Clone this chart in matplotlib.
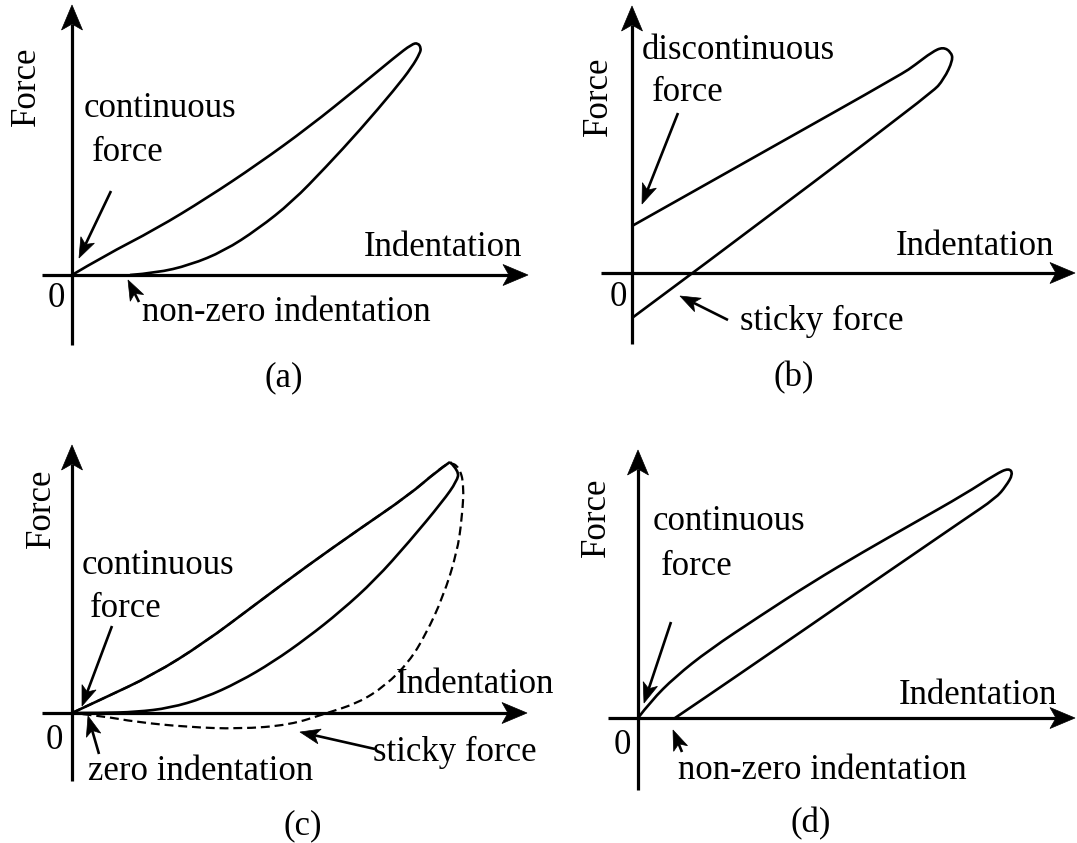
import matplotlib
matplotlib.use("Agg")
import matplotlib.pyplot as plt
import numpy as np
from matplotlib.path import Path
from matplotlib.patches import PathPatch, Polygon

plt.rcParams["font.family"] = ["Liberation Serif", "DejaVu Serif"]

FS = 25
LW_AXIS = 2.3
LW_CURVE = 1.9

# --- panel (a): continuous force, non-zero indentation ---
a_loop = [(0, 0), (32, 19), (84, 46), (135, 77), (186, 111), (237, 148), (288, 189),
          (323, 218), (340, 231), (346, 232), (349, 227), (348, 222), (340, 208),
          (323, 186), (288, 145), (254, 108), (220, 73), (186, 46), (152, 24),
          (118, 10), (84, 2), (58, 0)]

# --- panel (b): discontinuous force, sticky force ---
b_loop = [(0, 47), (135, 123), (270, 199), (283, 208), (300, 221), (311, 226),
          (319, 221), (321, 213), (312, 194), (300, 180), (61, 0), (0, -45)]

# --- panel (c): loading curve and two unloading curves ---
c_load = [(0, 0), (30, 14), (81, 38), (132, 70), (184, 109), (235, 147), (286, 183),
          (337, 218), (365, 242), (378, 251)]
c_unload = [(378, 251), (387, 242), (385, 232), (371, 212), (337, 171), (303, 133),
            (269, 102), (235, 75), (201, 51), (167, 31), (132, 15), (98, 5), (64, 1),
            (30, 0), (0, 0)]
c_sticky = [(378, 251), (387, 246), (392, 229), (390, 195), (385, 160), (371, 116),
            (354, 79), (337, 51), (313, 27), (286, 10), (255, 0), (218, -12),
            (167, -16), (115, -14), (64, -9), (30, -3), (0, 0)]

# --- panel (d): continuous force, non-zero indentation ---
d_loop = [(0, 0), (13, 17), (37, 41), (71, 68), (122, 102), (173, 135), (225, 166),
          (276, 195), (327, 224), (358, 244), (371, 250), (375, 244), (368, 232),
          (358, 220), (327, 199), (276, 164), (225, 129), (173, 93), (122, 58),
          (71, 23), (37, 0)]

# box in figure pixels (x0, y0, x1, y1), origin pixel, axis extents
panels = {
    "a": dict(box=(0, 0, 538, 421), origin=(72, 275), yax=(-70, 270), xax=(-30, 456)),
    "b": dict(box=(538, 0, 1077, 421), origin=(632, 273), yax=(-71, 267), xax=(-31, 443)),
    "c": dict(box=(0, 421, 538, 843), origin=(72, 713), yax=(-68, 268), xax=(-30, 455)),
    "d": dict(box=(538, 421, 1077, 843), origin=(638, 718), yax=(-72, 268), xax=(-30, 437)),
}

W, H = 1077, 843
fig = plt.figure(figsize=(W / 100, H / 100), dpi=100)


def make_axes(p):
    x0, y0, x1, y1 = p["box"]
    ox, oy = p["origin"]
    ax = fig.add_axes([x0 / W, 1 - y1 / H, (x1 - x0) / W, (y1 - y0) / H])
    ax.set_xlim(x0 - ox, x1 - ox)
    ax.set_ylim(oy - y1, oy - y0)
    ax.axis("off")
    return ax


def head(ax, tip, frm, length, width, notch):
    tip = np.array(tip, float)
    d = tip - np.array(frm, float)
    d /= np.hypot(*d)
    n = np.array([-d[1], d[0]])
    pts = [tip, tip - length * d + width / 2 * n, tip - (length - notch) * d,
           tip - length * d - width / 2 * n]
    ax.add_patch(Polygon(pts, closed=True, fc="black", ec="black", lw=0.5, clip_on=False))
    return tip - (length - notch) * d


def arrow(ax, frm, tip, lw=1.9, length=20, width=15, notch=5):
    back = head(ax, tip, frm, length, width, notch)
    ax.plot([frm[0], back[0]], [frm[1], back[1]], color="black", lw=lw,
            solid_capstyle="butt", clip_on=False)


def axes_arrows(ax, p):
    ylo, yhi = p["yax"]
    xlo, xhi = p["xax"]
    arrow(ax, (0, ylo), (0, yhi), lw=LW_AXIS, length=25, width=21, notch=6)
    arrow(ax, (xlo, 0), (xhi, 0), lw=LW_AXIS, length=25, width=21, notch=6)


def smooth(ax, pts, **kw):
    pts = [np.array(q, float) for q in pts]
    verts = [pts[0]]
    codes = [Path.MOVETO]
    for i in range(1, len(pts) - 1):
        end = pts[i + 1] if i == len(pts) - 2 else (pts[i] + pts[i + 1]) / 2
        verts += [pts[i], end]
        codes += [Path.CURVE3, Path.CURVE3]
    if len(pts) == 2:
        verts.append(pts[1])
        codes.append(Path.LINETO)
    patch = PathPatch(Path(verts, codes), fill=False, ec="black", clip_on=False,
                      capstyle="butt", joinstyle="round", **kw)
    ax.add_patch(patch)


def label(ax, x, y, s, **kw):
    ax.text(x, y, s, fontsize=FS, va="baseline", clip_on=False, **kw)


def force_label(ax, x, y):
    ax.text(x, y, "Force", fontsize=FS, rotation=90, ha="center", va="center")


# (a)
ax = make_axes(panels["a"])
axes_arrows(ax, panels["a"])
smooth(ax, a_loop, lw=LW_CURVE)
force_label(ax, -46, 189)
label(ax, 12, 158, "continuous")
label(ax, 20, 114, "force")
arrow(ax, (39, 84), (7, 17))
label(ax, 292, 19, "Indentation")
label(ax, -16, -32, "0", ha="center")
label(ax, 70, -46, "non-zero indentation")
arrow(ax, (67, -27), (56, -5))
label(ax, 212, -111, "(a)", ha="center")

# (b)
ax = make_axes(panels["b"])
axes_arrows(ax, panels["b"])
smooth(ax, b_loop, lw=LW_CURVE)
force_label(ax, -34, 177)
label(ax, 10, 214, "discontinuous")
label(ax, 20, 172, "force")
arrow(ax, (46, 160), (10, 69))
label(ax, 264, 18, "Indentation")
label(ax, -14, -33, "0", ha="center")
label(ax, 108, -57, "sticky force")
arrow(ax, (96, -47), (48, -23))
label(ax, 162, -113, "(b)", ha="center")

# (c)
ax = make_axes(panels["c"])
axes_arrows(ax, panels["c"])
smooth(ax, c_load, lw=LW_CURVE)
smooth(ax, c_unload, lw=LW_CURVE)
smooth(ax, c_load + c_sticky[1:], lw=1.6, linestyle=(0, (4, 2.2)))
force_label(ax, -31, 205)
label(ax, 10, 139, "continuous")
label(ax, 18, 96, "force")
arrow(ax, (40, 87), (10, 7))
label(ax, 324, 20, "Indentation")
label(ax, -18, -36, "0", ha="center")
label(ax, 16, -67, "zero indentation")
arrow(ax, (27, -41), (16, -3))
label(ax, 301, -48, "sticky force")
arrow(ax, (303, -36), (228, -19))
label(ax, 231, -121, "(c)", ha="center")

# (d)
ax = make_axes(panels["d"])
axes_arrows(ax, panels["d"])
smooth(ax, d_loop, lw=LW_CURVE)
force_label(ax, -42, 201)
label(ax, 15, 188, "continuous")
label(ax, 23, 143, "force")
arrow(ax, (33, 96), (6, 15))
label(ax, 261, 14, "Indentation")
label(ax, -16, -36, "0", ha="center")
label(ax, 40, -61, "non-zero indentation")
arrow(ax, (44, -34), (35, -12))
label(ax, 173, -114, "(d)", ha="center")

fig.savefig("out.png", dpi=100, facecolor="white")
